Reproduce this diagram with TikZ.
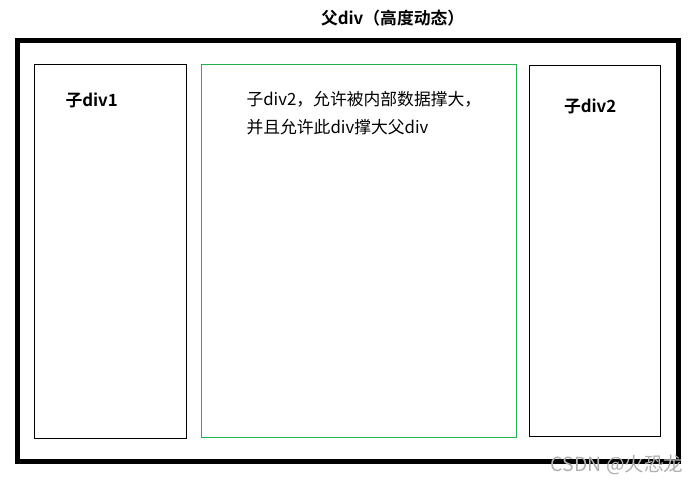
\documentclass[tikz,border=0pt]{standalone}
\usepackage{fontspec}
\newfontfamily\cjk{Noto Sans CJK SC}[BoldFont={Noto Sans CJK SC Bold}]
\definecolor{divgreen}{RGB}{34,177,76}
\definecolor{markgray}{RGB}{175,175,175}

\begin{document}
\begin{tikzpicture}
[x=0.75pt,y=-0.75pt,%
  every node/.style={inner sep=0pt,outer sep=0pt},%
  divbox/.style={draw,line width=0.75pt,minimum width=#1},%
  label/.style={anchor=west,font=\cjk\fontsize{12.6}{14}\selectfont},%
  boldlabel/.style={label,font=\cjk\bfseries\fontsize{12.6}{14}\selectfont}]
\useasboundingbox (0,0) rectangle (698,483);
% parent div
\node[draw,line width=3.75pt,minimum width=496pt,minimum height=315.4pt] (parent) at (348.25,250.75) {};
\node[boldlabel] (title) at (321,18.5) {父div（高度动态）};
% children
\node[divbox=114pt,minimum height=280.5pt] (left) at (110,251) {};
\node[divbox=236.25pt,minimum height=279.75pt,draw=divgreen] (middle) at (358.5,250.5) {};
\node[divbox=98.25pt,minimum height=278.25pt] (right) at (595,250.5) {};
\node[boldlabel] (lefttext) at (65.5,100) {子div1};
\node[boldlabel] (righttext) at (564,106) {子div2};
\node[label] (midline1) at (246.5,99) {子div2，允许被内部数据撑大，};
\node[label] (midline2) at (246.5,127) {并且允许此div撑大父div};
% watermark
\node[anchor=east,text=markgray,font=\cjk\fontsize{14.6}{16}\selectfont] (mark) at (683,465) {CSDN @火恐龙};
\end{tikzpicture}
\end{document}
